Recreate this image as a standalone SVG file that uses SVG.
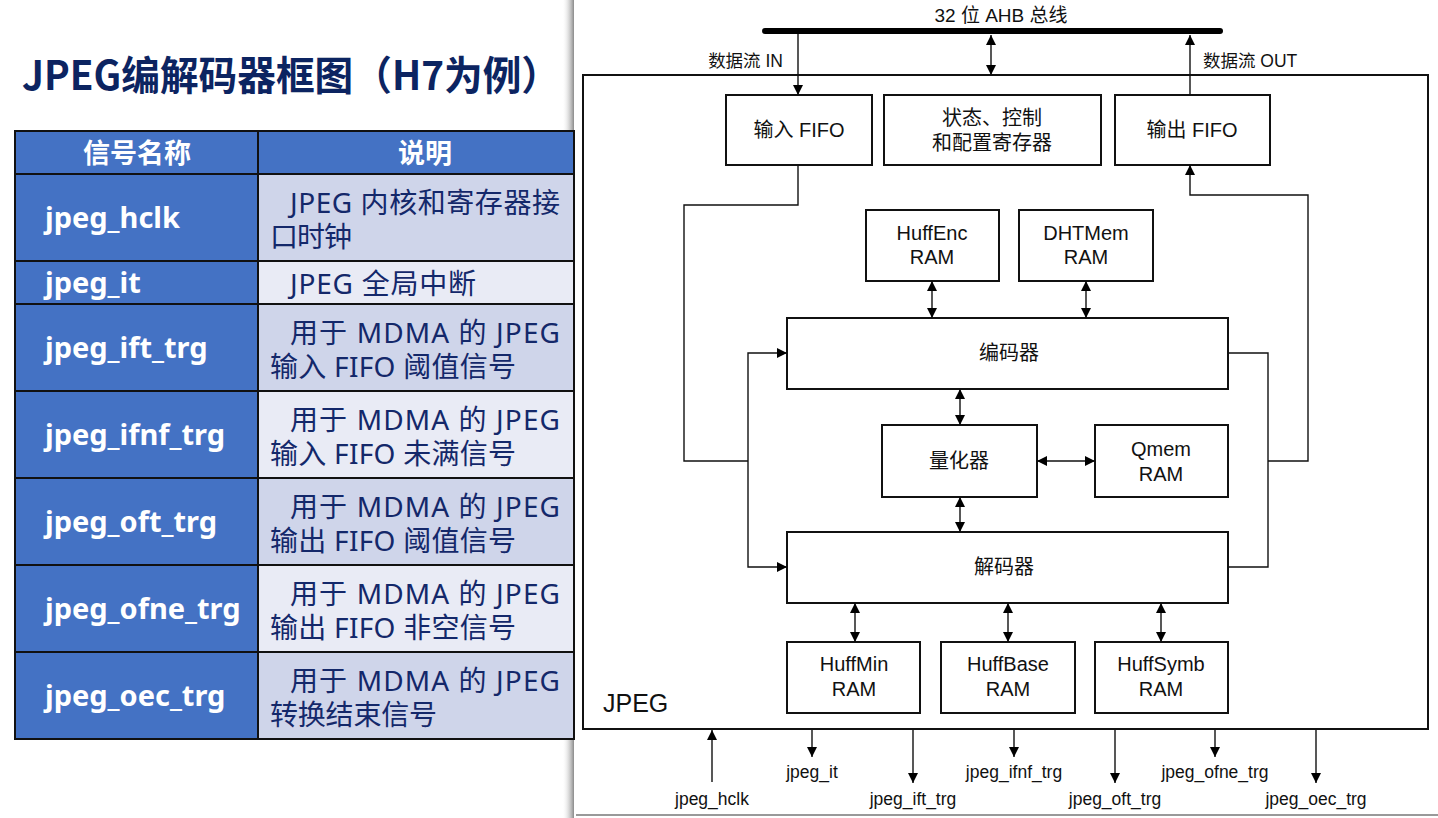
<svg xmlns="http://www.w3.org/2000/svg" width="1438" height="818" viewBox="0 0 1438 818">
<defs>
<marker id="ah" markerUnits="userSpaceOnUse" markerWidth="11" markerHeight="10" refX="10" refY="5" orient="auto-start-reverse">
<path d="M0,0 L10,5 L0,10 z" fill="#000"/>
</marker>
<linearGradient id="sh" x1="0" y1="0" x2="1" y2="0">
<stop offset="0" stop-color="#ffffff" stop-opacity="0"/>
<stop offset="1" stop-color="#8a8a8a"/>
</linearGradient>
<style>
.title{font-family:"Noto Sans CJK SC","Noto Sans",sans-serif;font-weight:bold;font-size:40px;fill:#0c2461}
.hd{font-family:"Noto Sans CJK SC",sans-serif;font-weight:bold;font-size:27px;fill:#fff;text-anchor:middle}
.sig{font-family:"Noto Sans","Noto Sans CJK SC",sans-serif;font-weight:bold;font-size:29px;fill:#fff}
.ds{font-family:"Noto Sans","Noto Sans CJK SC",sans-serif;font-size:28px;fill:#14286a}
.blue{fill:#4472c4;stroke:#111;stroke-width:2}
.dk{fill:#cfd5ea;stroke:#111;stroke-width:2}
.lt{fill:#e9ebf5;stroke:#111;stroke-width:2}
.bx{fill:#fff;stroke:#111;stroke-width:2}
.lb{font-family:"Liberation Sans","Noto Sans CJK SC",sans-serif;font-size:20px;fill:#111;text-anchor:middle}
.sm{font-family:"Liberation Sans","Noto Sans CJK SC",sans-serif;font-size:17.5px;fill:#111}
.cn{fill:none;stroke:#111;stroke-width:1.4}
</style>
</defs>
<rect width="1438" height="818" fill="#fff"/>
<rect x="562" y="0" width="12" height="818" fill="url(#sh)"/>
<line x1="576" y1="815" x2="1438" y2="815" stroke="#999" stroke-width="2"/>

<text class="title" x="22" y="90" textLength="538" lengthAdjust="spacingAndGlyphs">JPEG编解码器框图（H7为例）</text>

<g id="table">
<rect class="blue" x="15" y="131" width="243" height="43"/>
<rect class="blue" x="258" y="131" width="316" height="43"/>
<text class="hd" x="137" y="163">信号名称</text>
<text class="hd" x="425" y="163">说明</text>

<rect class="blue" x="15" y="174" width="243" height="87"/>
<rect class="dk" x="258" y="174" width="316" height="87"/>
<text class="sig" x="45" y="228">jpeg_hclk</text>
<text class="ds" x="290" y="213" textLength="270">JPEG 内核和寄存器接</text>
<text class="ds" x="270" y="247" textLength="82">口时钟</text>

<rect class="blue" x="15" y="261" width="243" height="43"/>
<rect class="lt" x="258" y="261" width="316" height="43"/>
<text class="sig" x="45" y="293">jpeg_it</text>
<text class="ds" x="290" y="294" textLength="186">JPEG 全局中断</text>

<rect class="blue" x="15" y="304" width="243" height="87"/>
<rect class="dk" x="258" y="304" width="316" height="87"/>
<text class="sig" x="45" y="358">jpeg_ift_trg</text>
<text class="ds" x="290" y="343" textLength="270">用于 MDMA 的 JPEG</text>
<text class="ds" x="270" y="377" textLength="246">输入 FIFO 阈值信号</text>

<rect class="blue" x="15" y="391" width="243" height="87"/>
<rect class="lt" x="258" y="391" width="316" height="87"/>
<text class="sig" x="45" y="445">jpeg_ifnf_trg</text>
<text class="ds" x="290" y="430" textLength="270">用于 MDMA 的 JPEG</text>
<text class="ds" x="270" y="464" textLength="246">输入 FIFO 未满信号</text>

<rect class="blue" x="15" y="478" width="243" height="87"/>
<rect class="dk" x="258" y="478" width="316" height="87"/>
<text class="sig" x="45" y="532">jpeg_oft_trg</text>
<text class="ds" x="290" y="517" textLength="270">用于 MDMA 的 JPEG</text>
<text class="ds" x="270" y="551" textLength="246">输出 FIFO 阈值信号</text>

<rect class="blue" x="15" y="565" width="243" height="87"/>
<rect class="lt" x="258" y="565" width="316" height="87"/>
<text class="sig" x="45" y="619">jpeg_ofne_trg</text>
<text class="ds" x="290" y="604" textLength="270">用于 MDMA 的 JPEG</text>
<text class="ds" x="270" y="638" textLength="246">输出 FIFO 非空信号</text>

<rect class="blue" x="15" y="652" width="243" height="87"/>
<rect class="dk" x="258" y="652" width="316" height="87"/>
<text class="sig" x="45" y="706">jpeg_oec_trg</text>
<text class="ds" x="290" y="691" textLength="270">用于 MDMA 的 JPEG</text>
<text class="ds" x="270" y="725" textLength="167">转换结束信号</text>
</g>

<g id="jpeg">
<rect class="bx" x="583" y="75" width="845" height="654"/>
<text x="603" y="712" style="font-family:'Liberation Sans',sans-serif;font-size:25px;fill:#111">JPEG</text>
</g>
<g id="bus">
<line x1="765" y1="31" x2="1220" y2="31" stroke="#000" stroke-width="6" stroke-linecap="round"/>
<text class="sm" x="1001" y="22" text-anchor="middle" style="font-size:19px">32 位 AHB 总线</text>
</g>
<g id="infifo"><rect class="bx" x="726" y="95" width="146" height="70"/><text class="lb" x="799" y="137">输入 FIFO</text></g>
<g id="regs"><rect class="bx" x="884" y="95" width="217" height="70"/><text class="lb" x="992" y="125">状态、控制</text><text class="lb" x="992" y="150">和配置寄存器</text></g>
<g id="outfifo"><rect class="bx" x="1115" y="95" width="155" height="70"/><text class="lb" x="1192" y="137">输出 FIFO</text></g>
<g id="huffenc"><rect class="bx" x="866" y="210" width="133" height="71"/><text class="lb" x="932" y="240">HuffEnc</text><text class="lb" x="932" y="264">RAM</text></g>
<g id="dhtmem"><rect class="bx" x="1019" y="210" width="134" height="71"/><text class="lb" x="1086" y="240">DHTMem</text><text class="lb" x="1086" y="264">RAM</text></g>
<g id="encoder"><rect class="bx" x="787" y="318" width="441" height="71"/><text class="lb" x="1009" y="360">编码器</text></g>
<g id="quant"><rect class="bx" x="882" y="425" width="155" height="72"/><text class="lb" x="959" y="468">量化器</text></g>
<g id="qmem"><rect class="bx" x="1095" y="425" width="133" height="72"/><text class="lb" x="1161" y="456">Qmem</text><text class="lb" x="1161" y="481">RAM</text></g>
<g id="decoder"><rect class="bx" x="787" y="532" width="441" height="71"/><text class="lb" x="1004" y="574">解码器</text></g>
<g id="huffmin"><rect class="bx" x="787" y="642" width="133" height="71"/><text class="lb" x="854" y="671">HuffMin</text><text class="lb" x="854" y="696">RAM</text></g>
<g id="huffbase"><rect class="bx" x="941" y="642" width="134" height="71"/><text class="lb" x="1008" y="671">HuffBase</text><text class="lb" x="1008" y="696">RAM</text></g>
<g id="huffsymb"><rect class="bx" x="1095" y="642" width="133" height="71"/><text class="lb" x="1161" y="671">HuffSymb</text><text class="lb" x="1161" y="696">RAM</text></g>

<g id="connectors">
<path class="cn" d="M798,34 V95" marker-end="url(#ah)"/>
<path class="cn" d="M991,35 V75" marker-start="url(#ah)" marker-end="url(#ah)"/>
<path class="cn" d="M1190,95 V35" marker-end="url(#ah)"/>
<text class="sm" x="783" y="67" text-anchor="end">数据流 IN</text>
<text class="sm" x="1203" y="67">数据流 OUT</text>

<path class="cn" d="M798,165 V205 H684 V461 H748"/>
<path class="cn" d="M748,461 V353 H787" marker-end="url(#ah)"/>
<path class="cn" d="M748,461 V567 H787" marker-end="url(#ah)"/>
<path class="cn" d="M1228,353 H1268 V567 H1228"/>
<path class="cn" d="M1268,461 H1308 V195 H1190 V165" marker-end="url(#ah)"/>

<path class="cn" d="M932,281 V318" marker-start="url(#ah)" marker-end="url(#ah)"/>
<path class="cn" d="M1086,281 V318" marker-start="url(#ah)" marker-end="url(#ah)"/>
<path class="cn" d="M960,389 V425" marker-start="url(#ah)" marker-end="url(#ah)"/>
<path class="cn" d="M1037,461 H1095" marker-start="url(#ah)" marker-end="url(#ah)"/>
<path class="cn" d="M960,497 V532" marker-start="url(#ah)" marker-end="url(#ah)"/>
<path class="cn" d="M855,603 V642" marker-start="url(#ah)" marker-end="url(#ah)"/>
<path class="cn" d="M1008,603 V642" marker-start="url(#ah)" marker-end="url(#ah)"/>
<path class="cn" d="M1161,603 V642" marker-start="url(#ah)" marker-end="url(#ah)"/>

<path class="cn" d="M712,782 V730" marker-end="url(#ah)"/>
<path class="cn" d="M812,730 V757" marker-end="url(#ah)"/>
<path class="cn" d="M913,730 V783" marker-end="url(#ah)"/>
<path class="cn" d="M1014,730 V757" marker-end="url(#ah)"/>
<path class="cn" d="M1115,730 V783" marker-end="url(#ah)"/>
<path class="cn" d="M1215,730 V757" marker-end="url(#ah)"/>
<path class="cn" d="M1316,730 V783" marker-end="url(#ah)"/>
<text class="sm" x="712" y="805" text-anchor="middle">jpeg_hclk</text>
<text class="sm" x="812" y="778" text-anchor="middle">jpeg_it</text>
<text class="sm" x="913" y="805" text-anchor="middle">jpeg_ift_trg</text>
<text class="sm" x="1014" y="778" text-anchor="middle">jpeg_ifnf_trg</text>
<text class="sm" x="1115" y="805" text-anchor="middle">jpeg_oft_trg</text>
<text class="sm" x="1215" y="778" text-anchor="middle">jpeg_ofne_trg</text>
<text class="sm" x="1316" y="805" text-anchor="middle">jpeg_oec_trg</text>
</g>
</svg>
